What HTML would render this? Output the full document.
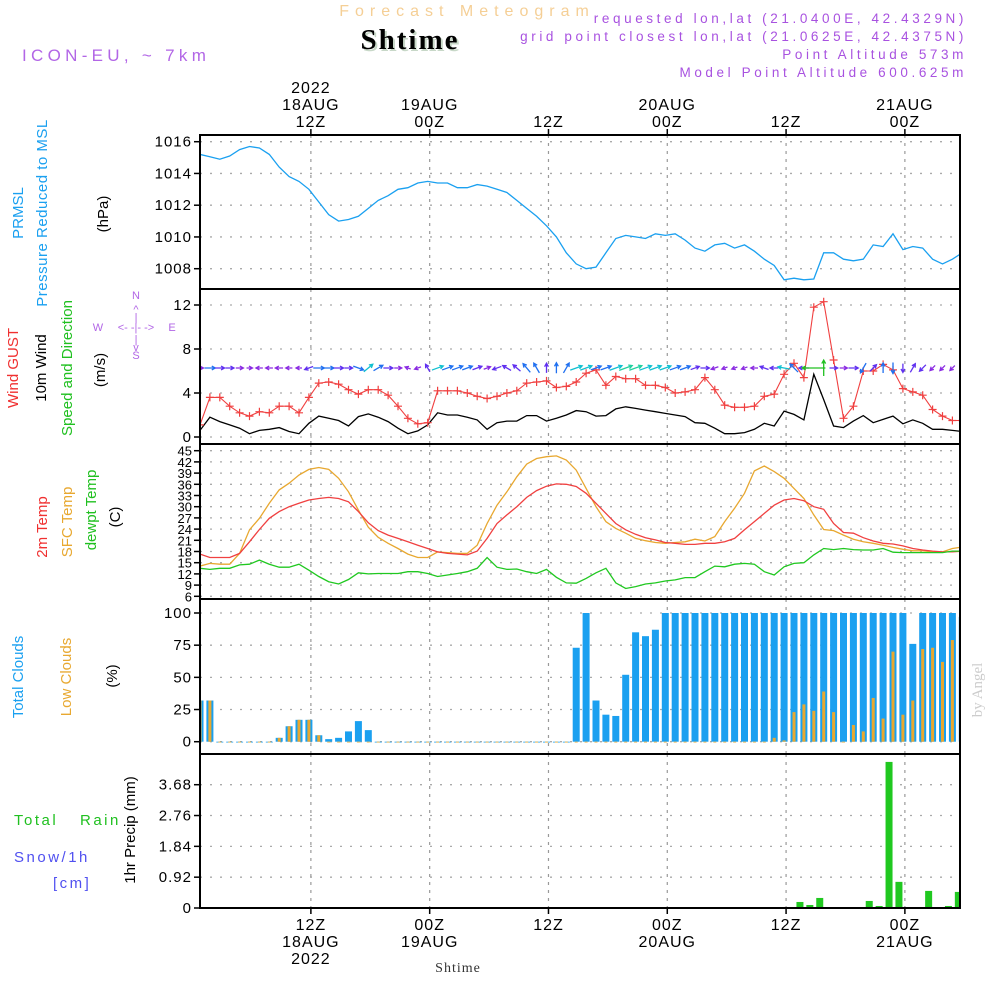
<!DOCTYPE html>
<html><head><meta charset="utf-8"><style>
body{margin:0;background:#fff;}
svg{display:block;font-family:"Liberation Sans",sans-serif;}
</style></head><body>
<svg id="c" width="1000" height="1000" viewBox="0 0 1000 1000">
<g id="txt">
<text x="467" y="16" text-anchor="middle" font-size="16" fill="#f5cf96" letter-spacing="6">Forecast Meteogram</text>
<text x="412" y="51" text-anchor="middle" font-size="29" font-weight="bold" font-family="Liberation Serif,serif" fill="#c8d8c8" letter-spacing="2">Shtime</text>
<text x="410" y="49" text-anchor="middle" font-size="29" font-weight="bold" font-family="Liberation Serif,serif" fill="#000" letter-spacing="2">Shtime</text>
<text x="22" y="61" font-size="17" fill="#b266e6" letter-spacing="4.3">ICON-EU, ~ 7km</text>
<g font-size="13.5" fill="#a852e0" text-anchor="end" letter-spacing="3.6">
<text x="967" y="23">requested lon,lat (21.0400E, 42.4329N)</text>
<text x="967" y="41">grid point closest lon,lat (21.0625E, 42.4375N)</text>
<text x="967" y="59">Point Altitude 573m</text>
<text x="967" y="77">Model Point Altitude 600.625m</text>
</g>
<g font-size="15" text-anchor="middle">
<text transform="translate(23,213) rotate(-90)" fill="#1aa0f0">PRMSL</text>
<text transform="translate(47,213) rotate(-90)" fill="#1aa0f0" letter-spacing="0.5">Pressure Reduced to MSL</text>
<text transform="translate(108,214) rotate(-90)" fill="#000">(hPa)</text>
<text transform="translate(18,368) rotate(-90)" fill="#f03030">Wind GUST</text>
<text transform="translate(46,368) rotate(-90)" fill="#000">10m Wind</text>
<text transform="translate(72,368) rotate(-90)" fill="#20c020">Speed and Direction</text>
<text transform="translate(105,370) rotate(-90)" fill="#000">(m/s)</text>
<text transform="translate(47,527) rotate(-90)" fill="#f03030">2m Temp</text>
<text transform="translate(72,522) rotate(-90)" fill="#e8a830">SFC Temp</text>
<text transform="translate(96,510) rotate(-90)" fill="#20c020">dewpt Temp</text>
<text transform="translate(120,517) rotate(-90)" fill="#000">(C)</text>
<text transform="translate(23,677) rotate(-90)" fill="#1aa0f0">Total Clouds</text>
<text transform="translate(71,677) rotate(-90)" fill="#e8a830">Low Clouds</text>
<text transform="translate(117,676) rotate(-90)" fill="#000">(%)</text>
<text transform="translate(135,830) rotate(-90)" fill="#000">1hr Precip (mm)</text>
</g>
<g font-size="15" letter-spacing="2.5">
<text x="14" y="825" fill="#20c020">Total</text>
<text x="80" y="825" fill="#20c020">Rain</text>
<text x="14" y="862" fill="#5050f0">Snow/1h</text>
<text x="53" y="888" fill="#5050f0">[cm]</text>
</g>
<g font-size="11" fill="#b266e6" text-anchor="middle">
<text x="136" y="299">N</text><text x="136" y="359">S</text><text x="98" y="331">W</text><text x="172" y="331">E</text>
<text x="136" y="331">&lt;- -|- -&gt;</text>
<text x="136" y="313">^</text><text x="136" y="321">|</text><text x="136" y="343">|</text><text x="136" y="351">v</text>
</g>
<text transform="translate(982,690) rotate(-90)" font-size="15" font-family="Liberation Serif,serif" fill="#ccc" text-anchor="middle">by Angel</text>
<text x="458" y="972" text-anchor="middle" font-size="14" font-family="Liberation Serif,serif" fill="#333" letter-spacing="1">Shtime</text>
</g>
<g id="plot"></g>
</svg>
<script>
// time axis: hourly index k
const pressure=[1015.2,1015.05,1014.9,1015.1,1015.5,1015.7,1015.6,1015.2,1014.4,1013.8,1013.5,1013.0,1012.2,1011.4,1011.0,1011.1,1011.3,1011.8,1012.3,1012.6,1013.0,1013.1,1013.4,1013.5,1013.4,1013.4,1013.1,1013.1,1013.3,1013.2,1013.0,1012.8,1012.3,1011.8,1011.3,1010.7,1010.0,1009.0,1008.3,1008.0,1008.1,1009.0,1009.9,1010.1,1010.0,1009.9,1010.2,1010.1,1010.2,1009.8,1009.3,1009.1,1009.5,1009.6,1009.3,1009.5,1009.1,1008.6,1008.2,1007.3,1007.4,1007.3,1007.35,1009.0,1009.0,1008.6,1008.5,1008.6,1009.5,1009.4,1010.2,1009.2,1009.4,1009.3,1008.6,1008.3,1008.6,1009.0];
const gust=[1.1,3.6,3.6,2.8,2.2,1.9,2.3,2.2,2.8,2.8,2.2,3.6,4.9,5.0,4.8,4.3,3.9,4.3,4.3,3.8,2.8,1.7,1.2,1.3,4.2,4.2,4.2,4.0,3.7,3.5,3.7,4.0,4.2,4.9,5.0,5.1,4.5,4.6,5.0,5.8,6.1,4.7,5.5,5.3,5.3,4.7,4.7,4.5,4.0,4.1,4.3,5.4,4.3,2.9,2.7,2.7,2.8,3.7,3.9,5.7,6.7,5.4,11.8,12.3,7.0,1.7,2.8,6.0,6.0,6.6,6.1,4.4,4.1,3.8,2.5,1.9,1.5,1.5];
const wind=[0.6,1.8,1.4,1.1,0.8,0.3,0.6,0.7,0.85,0.5,0.3,1.25,1.9,1.7,1.5,1.0,1.85,2.1,1.8,1.4,0.8,0.3,0.55,1.1,2.2,2.0,2.0,1.8,1.55,0.7,1.3,1.45,1.45,1.95,1.95,1.45,1.7,2.0,2.4,2.3,1.9,1.95,2.55,2.75,2.6,2.45,2.3,2.15,2.0,1.85,1.3,1.25,0.8,0.3,0.3,0.4,0.7,1.25,1.0,2.35,2.05,1.55,5.7,3.4,1.0,0.85,1.45,1.95,1.3,1.6,1.9,1.2,1.55,1.25,0.7,0.7,0.6,0.5];
const windDir=[0,0,0,0,0,0,180,180,180,180,180,200,0,0,0,0,-20,40,30,0,0,160,200,120,20,20,20,20,20,20,200,150,140,130,120,90,90,60,20,20,20,20,20,20,20,20,20,20,20,20,20,0,200,200,200,200,180,160,180,170,135,180,180,90,0,0,0,240,45,90,270,270,60,225,225,225,225,225];
const temp2m=[17.3,16.4,16.4,16.4,17.5,20.6,23.9,26.9,28.7,30.0,30.9,31.8,32.2,32.5,32.2,31.3,28.7,25.7,23.6,22.4,21.5,20.6,19.7,18.8,17.9,17.5,17.3,17.1,18.1,21.5,25.5,27.8,30.0,32.5,34.3,35.5,36.1,36.0,35.4,33.6,30.9,28.2,25.5,23.8,22.6,21.7,21.1,20.4,20.2,19.9,19.9,20.2,20.2,20.6,21.5,23.8,26.0,28.2,30.4,31.8,32.2,31.6,30.0,29.3,25.5,23.1,22.9,21.7,20.8,20.2,20.0,19.5,18.8,18.4,18.1,17.9,17.9,18.1];
const sfcTemp=[14.1,14.8,14.6,14.6,17.5,23.8,26.9,30.9,34.5,36.3,38.5,40.0,40.5,40.0,37.6,34.0,29.1,24.5,21.8,20.2,18.8,17.3,16.4,16.4,17.9,17.7,17.5,17.5,19.7,25.5,30.4,34.0,38.0,41.4,42.9,43.4,43.6,42.5,39.8,34.9,30.0,26.0,24.2,22.9,21.5,20.9,20.4,20.2,20.4,20.6,21.3,20.8,22.0,26.0,29.6,33.6,39.6,40.9,39.4,37.6,34.9,32.2,27.8,23.9,23.6,22.4,21.3,20.6,20.2,19.7,19.1,18.6,18.2,18.2,17.9,17.9,18.8,19.2];
const dewpt=[13.5,13.2,13.5,13.5,14.4,14.6,15.7,14.6,13.8,13.8,14.6,13.0,11.3,9.9,9.3,10.5,12.3,12.0,12.1,12.1,12.1,12.6,12.6,12.1,11.3,11.7,12.1,12.6,13.5,16.4,13.8,13.2,13.3,12.6,12.1,13.2,11.1,9.6,9.5,10.8,12.3,13.5,9.6,8.1,8.6,9.3,9.6,10.1,10.4,11.0,11.0,12.6,14.1,13.9,14.6,14.8,14.6,12.6,11.7,13.9,14.8,15.0,17.1,18.8,18.5,18.8,18.5,18.4,18.4,18.8,17.8,17.7,17.7,17.7,17.7,17.7,18.1,18.1];
const totalCloud=[32,32,0,0,0,0,0,0,3,12,17,17,5,2,3,8,16,9,0,0,0,0,0,0,0,0,0,0,0,0,0,0,0,0,0,0,0,0,73,100,32,21,20,52,85,82,87,100,100,100,100,100,100,100,100,100,100,100,100,100,100,100,100,100,100,100,100,100,100,100,100,100,76,100,100,100,100,97];
const lowCloud=[32,32,0,0,0,0,0,0,3,12,17,17,5,0,0,0,0,0,0,0,0,0,0,0,0,0,0,0,0,0,0,0,0,0,0,0,0,0,0,0,0,0,0,0,0,0,0,0,0,0,0,0,0,0,0,0,0,0,3,1,23,29,24,39,23,0,13,8,34,18,70,21,32,72,73,62,79,88];
const precip=[0,0,0,0,0,0,0,0,0,0,0,0,0,0,0,0,0,0,0,0,0,0,0,0,0,0,0,0,0,0,0,0,0,0,0,0,0,0,0,0,0,0,0,0,0,0,0,0,0,0,0,0,0,0,0,0,0,0,0,0,0.03,0.18,0.09,0.3,0,0,0,0,0.21,0.06,4.36,0.78,0,0.03,0.51,0,0.06,0.48];
const pTicks=[1008,1010,1012,1014,1016];
const wTicks=[0,4,8,12];
const tTicks=[6,9,12,15,18,21,24,27,30,33,36,39,42,45];
const cTicks=[0,25,50,75,100];
const rTicks=[0,0.92,1.84,2.76,3.68];
const timeTicks=[11.2,23.2,35.2,47.2,59.2,71.2];
const topLabels=[["2022","18AUG","12Z"],["","19AUG","00Z"],["","","12Z"],["","20AUG","00Z"],["","","12Z"],["","21AUG","00Z"]];
const botLabels=[["12Z","18AUG","2022"],["00Z","19AUG",""],["12Z","",""],["00Z","20AUG",""],["12Z","",""],["00Z","21AUG",""]];

const NS="http://www.w3.org/2000/svg";
const plot=document.getElementById('plot');
const X0=200,X1=960,DX=9.9;
const xS=t=>X0+t*DX;
function mk(tag,attrs,parent){const e=document.createElementNS(NS,tag);for(const k in attrs)e.setAttribute(k,attrs[k]);(parent||plot).appendChild(e);return e;}
function lin(d0,d1,r0,r1){return v=>r0+(v-d0)*(r1-r0)/(d1-d0);}
const panels=[
 {y0:135,y1:289,s:lin(1008,1016,268.7,141.7),ticks:pTicks,name:'pressure'},
 {y0:289,y1:444,s:lin(0,12,437,305),ticks:wTicks,name:'wind'},
 {y0:444,y1:599,s:lin(6,45,596.3,450.7),ticks:tTicks,name:'temp'},
 {y0:599,y1:754,s:lin(0,100,741.7,613),ticks:cTicks,name:'cloud'},
 {y0:754,y1:908,s:lin(0,3.68,908,784.7),ticks:rTicks,name:'precip'}
];
const clip=mk('clipPath',{id:'pc'});
mk('rect',{x:X0,y:135,width:X1-X0,height:773},clip);
panels.forEach((p,i)=>{
  const g=mk('g',{});
  
  
  p.ticks.forEach(v=>{
    const y=p.s(v);
    const gl=mk('line',{x1:X0,x2:X1,y1:y,y2:y,stroke:'#aaa','stroke-width':1.3,'stroke-dasharray':'2 8'},g);
    
    
    mk('line',{x1:X0-6,x2:X0,y1:y,y2:y,stroke:'#000','stroke-width':1.5},g);
    const fs=p.name==='temp'?13:15;
    const t=mk('text',{x:X0-8,y:y+5,'text-anchor':'end','font-size':fs,fill:'#000','letter-spacing':p.name==='temp'?0:1},g);
    t.textContent=(p.name==='precip'&&v===0)?'0':(p.name==='precip'?v.toFixed(2):v);
    
    
  });
  timeTicks.forEach(tt=>{
    const x=xS(tt);
    const vl=mk('line',{x1:x,x2:x,y1:p.y0,y2:p.y1,stroke:'#999','stroke-width':1.2,'stroke-dasharray':'3 5'},g);
    
    
  });
});
function poly(arr,s,color,name,w){
  const pts=arr.map((v,k)=>xS(k).toFixed(1)+','+s(v).toFixed(1)).join(' ');
  const e=mk('polyline',{points:pts,fill:'none',stroke:color,'stroke-width':w||1.3,'clip-path':'url(#pc)'});
  
  
  return e;
}
poly(pressure,panels[0].s,'#1aa0f0','pressure-line');
poly(wind,panels[1].s,'#000','wind-speed-line');
poly(gust,panels[1].s,'#f04040','gust-line',1.1);
gust.forEach((v,k)=>{
  const x=xS(k),y=panels[1].s(v);
  const m=mk('path',{d:`M${x-4},${y}H${x+4}M${x},${y-4}V${y+4}`,stroke:'#f04040','stroke-width':1.2,'clip-path':'url(#pc)'});
  
  
});
function windColor(s){return s<1?'#8a2be2':s<1.6?'#6030f0':s<2.1?'#2070f0':s<2.6?'#10c0d0':s<3?'#20d0a0':'#20c020';}
const ay=368;
windDir.forEach((d,k)=>{
  const sp=wind[k];
  const L=5+sp*3.2;
  const a=d*Math.PI/180;
  const x=xS(k),dx=Math.cos(a)*L,dy=-Math.sin(a)*L;
  const x1=x-dx/2,y1=ay-dy/2,x2=x+dx/2,y2=ay+dy/2;
  const ha=Math.atan2(y2-y1,x2-x1);
  const h1x=x2-4*Math.cos(ha-0.5),h1y=y2-4*Math.sin(ha-0.5),h2x=x2-4*Math.cos(ha+0.5),h2y=y2-4*Math.sin(ha+0.5);
  const e=mk('path',{d:`M${x1},${y1}L${x2},${y2}M${h1x},${h1y}L${x2},${y2}L${h2x},${h2y}`,stroke:windColor(sp),'stroke-width':1.3,fill:'none','clip-path':'url(#pc)'});
  
  
});
poly(sfcTemp,panels[2].s,'#e8a830','sfc-temp-line');
poly(temp2m,panels[2].s,'#f04040','temp-2m-line');
poly(dewpt,panels[2].s,'#20c820','dewpoint-line');
const cs=panels[3].s;
totalCloud.forEach((v,k)=>{
  const y=cs(v),h=cs(0)-y;
  const b=mk('rect',{x:xS(k)-3.5,y:y,width:7,height:Math.max(h,0.8),fill:'#1aa0f0','clip-path':'url(#pc)'});
  
  
});
lowCloud.forEach((v,k)=>{
  const y=cs(v),h=cs(0)-y;
  const b=mk('rect',{x:xS(k)-1.5,y:y,width:3,height:Math.max(h,0.8),fill:'#e8a830','clip-path':'url(#pc)'});
  
  
});
const rs=panels[4].s;
precip.forEach((v,k)=>{
  if(v<=0)return;
  const y=rs(v);
  const b=mk('rect',{x:xS(k-0.4)-3.5,y:y,width:7,height:rs(0)-y,fill:'#20c820','clip-path':'url(#pc)'});
  
  
});
[135,289,444,599,754,908].forEach(y=>mk('line',{x1:X0-1,x2:X1+1,y1:y,y2:y,stroke:'#000','stroke-width':2}));
mk('line',{x1:X0,x2:X0,y1:135,y2:908,stroke:'#000','stroke-width':2});
mk('line',{x1:X1,x2:X1,y1:135,y2:908,stroke:'#000','stroke-width':2});
timeTicks.forEach((tt,i)=>{
  const x=xS(tt);
  mk('line',{x1:x,x2:x,y1:129,y2:135,stroke:'#000','stroke-width':1.5});
  mk('line',{x1:x,x2:x,y1:908,y2:914,stroke:'#000','stroke-width':1.5});
  topLabels[i].forEach((s,j)=>{if(!s)return;
    const t=mk('text',{x:x,y:93+j*17,'text-anchor':'middle','font-size':16,fill:'#000','letter-spacing':1});t.textContent=s;
    
    });
  botLabels[i].forEach((s,j)=>{if(!s)return;
    const t=mk('text',{x:x,y:930+j*17,'text-anchor':'middle','font-size':16,fill:'#000','letter-spacing':1});t.textContent=s;
    
    });
});
</script>
</body></html>
